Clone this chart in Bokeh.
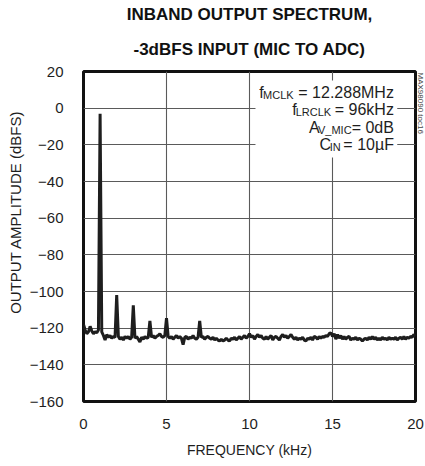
import numpy as np
from bokeh.plotting import figure
from bokeh.models import Range1d, Label, BoxAnnotation, Title
from bokeh.embed import file_html
from bokeh.resources import INLINE

# ---------------- data ----------------
FREQ_STEP_KHZ = 0.1
amplitude_dbfs = [
    -118, -121, -123, -122, -119, -121.5, -123, -122, -122.5, -121,      # 0.0-0.9
    -3, -122, -124, -126.5, -123.5, -125, -124, -125.5, -124.5, -125,    # 1.0-1.9
    -102, -124.5, -126, -125, -126.5, -124.5, -125.5, -124.5, -126, -125,  # 2.0-2.9
    -107.5, -125.5, -124.5, -126, -127.5, -125, -126, -124.5, -125.5, -125,  # 3.0-3.9
    -116, -125, -124, -125.5, -124.5, -124, -123, -124.5, -125, -124,    # 4.0-4.9
    -114.5, -124.5, -125.5, -124.5, -126, -125, -124, -125.5, -124.5, -125.5,  # 5.0-5.9
    -129, -125, -124.5, -126, -125, -125.5, -124, -125.5, -126, -125,    # 6.0-6.9
    -116, -125, -124.5, -126, -125, -124.5, -125.5, -126, -125, -126.5,  # 7.0-7.9
    -125.5, -126.5, -127, -126, -127, -126.5, -125.5, -126.5, -127, -125.5,  # 8.0-8.9
    -126, -125, -126.5, -125.5, -124.5, -126, -125, -124, -125.5, -124.5,  # 9.0-9.9
    -123, -125, -124, -126, -124.5, -123.5, -125, -124, -125.5, -126,    # 10.0-10.9
    -124.5, -126, -125, -124, -126.5, -125, -124.5, -125.5, -126.5, -124.5,  # 11.0-11.9
    -123.5, -125, -124, -125.5, -124.5, -123.5, -125, -126, -125, -126.5,  # 12.0-12.9
    -125.5, -126, -125, -126.5, -127, -125.5, -126, -125, -126.5, -124.5,  # 13.0-13.9
    -125, -126, -124.5, -125.5, -124.5, -125, -124, -124.5, -123, -122.5,  # 14.0-14.9
    -124.5, -123, -126, -123.5, -125.5, -124, -126, -124.5, -126, -125,  # 15.0-15.9
    -124.5, -126.5, -125.5, -126, -125, -126.5, -125.5, -126, -127, -126,  # 16.0-16.9
    -125.5, -126.5, -125, -126, -124.5, -126, -125, -126.5, -125.5, -126.5,  # 17.0-17.9
    -125, -126, -125.5, -126.5, -125, -126, -125.5, -126, -125, -126.5,  # 18.0-18.9
    -125.5, -125, -126, -124.5, -126, -125, -125.5, -124.5, -125, -123.5,  # 19.0-19.9
    -124.5,                                                               # 20.0
]
frequency_khz = [round(i * FREQ_STEP_KHZ, 1) for i in range(len(amplitude_dbfs))]

x_ticks = [0, 5, 10, 15, 20]
y_ticks = [-160, -140, -120, -100, -80, -60, -40, -20, 0, 20]

title_lines = ["INBAND OUTPUT SPECTRUM,", "-3dBFS INPUT (MIC TO ADC)"]
x_label = "FREQUENCY (kHz)"
y_label = "OUTPUT AMPLITUDE (dBFS)"
watermark = "MAX98090 toc16"
# legend pieces: (main symbol, subscript, value text)
legend_rows = [
    ("f", "MCLK", "= 12.288MHz"),
    ("f", "LRCLK", "= 96kHz"),
    ("A", "V_MIC", "= 0dB"),
    ("C", "IN", "= 10µF"),
]

# ---------------- styling ----------------
FONT = "Liberation Sans"
INK = "#1e1e1e"

p = figure(
    frame_width=332, frame_height=330,
    min_border_left=83, min_border_right=10, min_border_top=71, min_border_bottom=60,
    x_range=Range1d(0, 20), y_range=Range1d(-160, 20),
    output_backend="svg", toolbar_location=None, title=None,
)
p.background_fill_color = "white"
p.border_fill_color = "white"
p.outline_line_color = "#111111"
p.outline_line_width = 3

for ax in (p.xaxis[0], p.yaxis[0]):
    ax.axis_line_color = None
    ax.major_tick_line_color = None
    ax.minor_tick_line_color = None
    ax.major_tick_out = 0
    ax.major_tick_in = 0
    ax.major_label_text_font = FONT
    ax.major_label_text_font_size = "15px"
    ax.major_label_text_color = INK

p.xaxis.ticker = x_ticks
p.yaxis.ticker = y_ticks
p.xaxis.major_label_standoff = 17
p.yaxis.major_label_standoff = 20
p.xaxis.axis_label = x_label
p.xaxis.axis_label_text_font = FONT
p.xaxis.axis_label_text_font_size = "14px"
p.xaxis.axis_label_text_font_style = "normal"
p.xaxis.axis_label_text_color = INK
p.xaxis.axis_label_standoff = 10

p.grid.grid_line_color = "#5a5a5a"
p.grid.grid_line_width = 1.1

# spectrum trace
p.line(frequency_khz, amplitude_dbfs, line_color=INK, line_width=3)

# white box behind the conditions text
p.add_layout(BoxAnnotation(left=10.36, right=18.9, top=15.1, bottom=-26.9,
                           fill_color="white", fill_alpha=1.0, line_color=None))

# conditions text (right aligned pieces, data positions)
main_right = [18.70, 18.70, 18.70, 18.70]
sub_right = [12.66, 14.92, 16.15, 15.50]
sym_right = [10.85, 12.84, 14.22, 14.92]
base_y = [8.65, -0.95, -10.55, -20.09]
for (sym, sub, val), mr, sr, yr, by in zip(legend_rows, main_right, sub_right, sym_right, base_y):
    p.add_layout(Label(x=mr, y=by, text=val, text_align="right", text_baseline="alphabetic",
                       text_font=FONT, text_font_size="16px", text_color=INK))
    p.add_layout(Label(x=sr, y=by - 1.36, text=sub, text_align="right", text_baseline="alphabetic",
                       text_font=FONT, text_font_size="11px", text_color=INK))
    p.add_layout(Label(x=yr, y=by, text=sym, text_align="right", text_baseline="alphabetic",
                       text_font=FONT, text_font_size="16px", text_color=INK))

# title: two lines stacked above the frame (first added is closest to the frame)
p.add_layout(Title(text=title_lines[1], align="center", text_font=FONT, text_font_size="17px",
                   text_font_style="bold", text_color="#111111", standoff=26,
                   text_line_height=0.85), "above")
p.add_layout(Title(text=title_lines[0], align="center", text_font=FONT, text_font_size="17px",
                   text_font_style="bold", text_color="#111111", standoff=1,
                   text_line_height=0.85), "above")

# y-axis label as a left title, placed a little above the frame centre like the original
p.add_layout(Title(text=y_label, align="right", text_font=FONT, text_font_size="15px",
                   text_font_style="normal", text_color=INK, standoff=5, offset=39), "left")

# small rotated watermark to the right of the frame, near its top
p.add_layout(Title(text=watermark, align="left", text_font=FONT, text_font_size="8px",
                   text_font_style="normal", text_color="#444444", standoff=0, offset=1), "right")

open("out.html", "w").write(file_html(p, INLINE))
